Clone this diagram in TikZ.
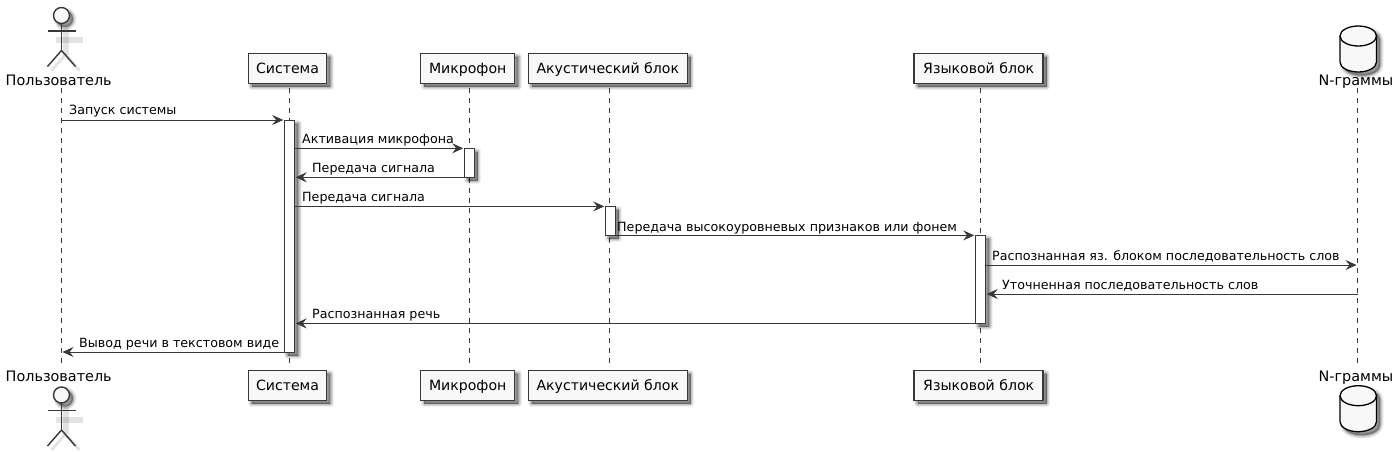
\documentclass[tikz,border=0pt]{standalone}
\usepackage{fontspec}
\setmainfont{DejaVu Sans}
\usetikzlibrary{arrows.meta,positioning,calc}
\definecolor{ln}{HTML}{383838}
\definecolor{bx}{HTML}{F8F8F8}
\tikzset{
  softshadow/.style={
    preaction={draw=black,fill=black,draw opacity=.06,fill opacity=.06,line width=7pt,line join=round,transform canvas={shift={(3.5pt,-3.5pt)}}},
    preaction={draw=black,fill=black,draw opacity=.09,fill opacity=.09,line width=5pt,line join=round,transform canvas={shift={(3.5pt,-3.5pt)}}},
    preaction={draw=black,fill=black,draw opacity=.12,fill opacity=.12,line width=3pt,line join=round,transform canvas={shift={(3.5pt,-3.5pt)}}},
    preaction={draw=black,fill=black,draw opacity=.14,fill opacity=.14,line width=1pt,line join=round,transform canvas={shift={(3.5pt,-3.5pt)}}}},
  lineshadow/.style={draw=black,draw opacity=.11,line width=6pt,transform canvas={shift={(4pt,-4pt)}}},
  partbox/.style={draw=ln,fill=bx,line width=1.5pt,outer sep=0pt,minimum height=30pt,inner sep=0pt,font=\fontsize{14.1}{16}\selectfont,text height=10.5pt,text depth=0pt,softshadow},
  partlabel/.style={inner sep=0pt,anchor=base,font=\fontsize{14.4}{16}\selectfont},
  life/.style={draw=ln,line width=.8pt,dash pattern=on 5pt off 5pt},
  actline/.style={draw=ln,line width=1.4pt},
  actbar/.style={draw=ln,fill=white,line width=.9pt,outer sep=0pt,inner sep=0pt,anchor=north west,softshadow},
  msg/.style={draw=ln,line width=.8pt,-{Stealth[length=11pt,width=10pt,inset=4pt,fill=ln]}},
  msglabel/.style={inner sep=0pt,anchor=base west,font=\fontsize{12.68}{15}\selectfont},
  drum/.style={draw=black,fill=bx,line width=1.3pt}
}
\newcommand{\actorfig}[2]{% x, top of head
  \path[softshadow] (#1,#2+8) circle (8);
  \draw[lineshadow] (#1-10,#2+28.5) -- (#1+17,#2+28.5);
  \draw[lineshadow] (#1,#2+16) -- (#1,#2+43);
  \draw[lineshadow,line width=3pt] (#1-14,#2+59) -- (#1,#2+43) -- (#1+14,#2+59);
  \draw[actline,fill=bx] (#1,#2+8) circle (8);
  \draw[actline] (#1-14,#2+23.5) -- (#1+14,#2+23.5);
  \draw[actline] (#1,#2+16) -- (#1,#2+43);
  \draw[actline] (#1-14,#2+59) -- (#1,#2+43) -- (#1+14,#2+59);
}
\newcommand{\drumfig}[3]{% x1, x2, top
  \path[softshadow] (#1,#3+10) arc[start angle=180,end angle=360,x radius={(#2-#1)/2},y radius=10] -- (#2,#3+36) arc[start angle=0,end angle=180,x radius={(#2-#1)/2},y radius=10] -- cycle;
  \draw[drum] (#1,#3+10) arc[start angle=180,end angle=360,x radius={(#2-#1)/2},y radius=10] -- (#2,#3+36) arc[start angle=0,end angle=180,x radius={(#2-#1)/2},y radius=10] -- cycle;
  \draw[drum,fill=none] (#1,#3+10) arc[start angle=180,end angle=0,x radius={(#2-#1)/2},y radius=10];
}
\begin{document}
\begin{tikzpicture}[x=1pt,y=-1pt]
\useasboundingbox (0,0) rectangle (1398,451);
% lifeline ends
\foreach \n/\x in {u/61.5,s/289.5,m/469.3,a/609.3,y/980.3,g/1357.5}{
  \coordinate (\n T) at (\x,88);
  \coordinate (\n B) at (\x,366);
  \draw[life] (\n T) -- (\n B);
}
% actors
\actorfig{61.5}{7.5}
\node[partlabel] (uT0) at (58.7,85) {Пользователь};
\actorfig{61.5}{387}
\node[partlabel] (uB0) at (58.7,381.5) {Пользователь};
% boxes
\node[partbox,minimum width=78.4pt] (sT0) at (287.5,68.3) {Система};
\node[partbox,minimum width=94pt] (mT0) at (467.7,68.3) {Микрофон};
\node[partbox,minimum width=159pt] (aT0) at (607.8,68.3) {Акустический блок};
\node[partbox,minimum width=129pt] (yT0) at (978.7,68.3) {Языковой блок};
\node[partbox,minimum width=78.4pt] (sB0) at (287.5,385.3) {Система};
\node[partbox,minimum width=94pt] (mB0) at (467.7,385.3) {Микрофон};
\node[partbox,minimum width=159pt] (aB0) at (607.8,385.3) {Акустический блок};
\node[partbox,minimum width=129pt] (yB0) at (978.7,385.3) {Языковой блок};
% database
\drumfig{1340}{1376.5}{26}
\node[partlabel] (gT0) at (1356,85) {N-граммы};
\node[partlabel] (gB0) at (1356,381.5) {N-граммы};
\drumfig{1340}{1376.5}{385.7}
% activation bars
\node[actbar,minimum width=10.5pt,minimum height=232pt] (sA) at (284.2,120) {};
\node[actbar,minimum width=10.2pt,minimum height=29pt] (mA) at (464.2,148.3) {};
\node[actbar,minimum width=10.2pt,minimum height=29pt] (aA) at (605.2,206.4) {};
\node[actbar,minimum width=10.5pt,minimum height=88pt] (yA) at (975.2,235.4) {};
% message ends
\coordinate (p1) at (uT |- sA.north);
\coordinate (p9) at (uT |- sA.south);
\coordinate (p6) at (gT |- 0,265);
\coordinate (p7) at (gT |- 0,294);
% messages
\draw[msg] (p1) -- ($(sA.north west)+(-1pt,0)$);
\draw[msg] (sA.east |- mA.north) -- ($(mA.north west)+(-1pt,0)$);
\draw[msg] (mA.south west) -- ($(sA.east |- mA.south)+(1pt,0)$);
\draw[msg] (sA.east |- aA.north) -- ($(aA.north west)+(-1pt,0)$);
\draw[msg] (aA.south east) -- ($(yA.north west)+(-1pt,0)$);
\draw[msg] (yA.east |- p6) -- ($(p6)+(-1pt,0)$);
\draw[msg] (p7) -- ($(yA.east |- p7)+(1pt,0)$);
\draw[msg] (yA.south west) -- ($(sA.east |- yA.south)+(1pt,0)$);
\draw[msg] (sA.south west) -- ($(p9)+(1pt,0)$);
% labels
\node[msglabel] (t1) at (69,114.5) {Запуск системы};
\node[msglabel] (t2) at (302,143) {Активация микрофона};
\node[msglabel] (t3) at (312,172) {Передача сигнала};
\node[msglabel] (t4) at (302,201) {Передача сигнала};
\node[msglabel] (t5) at (617,231) {Передача высокоуровневых признаков или фонем};
\node[msglabel] (t6) at (992,260) {Распознанная яз. блоком последовательность слов};
\node[msglabel] (t7) at (1002,289) {Уточненная последовательность слов};
\node[msglabel] (t8) at (312,318) {Распознанная речь};
\node[msglabel] (t9) at (79,347) {Вывод речи в текстовом виде};
\end{tikzpicture}
\end{document}
